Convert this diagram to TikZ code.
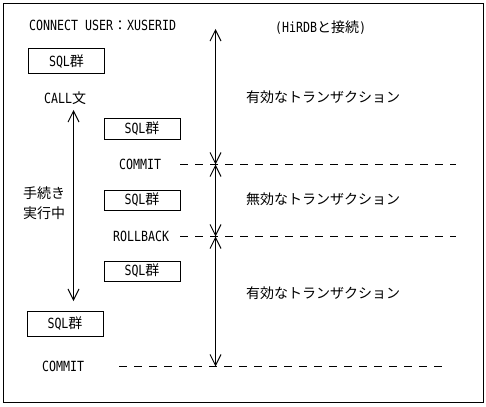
\documentclass[tikz,border=0pt]{standalone}
\usepackage{fontspec}
\setmainfont{DejaVu Sans Mono}[FakeStretch=0.83]
\newfontfamily\jp{Noto Sans CJK JP}
\usetikzlibrary{arrows.meta}
\tikzset{
  txt/.style={inner sep=0pt, anchor=west, font=\fontsize{14}{20}\selectfont},
  sqlbox/.style={draw, line width=1pt, inner sep=0pt, minimum width=76pt, font=\fontsize{14}{20}\selectfont},
  span/.style={line width=1pt, {Straight Barb[length=11pt,width=11pt]}-{Straight Barb[length=11pt,width=11pt]}},
  sepline/.style={line width=1pt, dash pattern=on 8pt off 7pt},
}
\begin{document}
\begin{tikzpicture}[x=1pt,y=-1pt]
\useasboundingbox (0,0) rectangle (486,406);
\draw[line width=1pt] (3.5,3.5) rectangle (483.5,402.5);

\node[txt] (conn) at (29,25) {CONNECT USER{\jp ：}XUSERID};
\node[txt] (hirdb) at (275,28) {(HiRDB{\jp と接続})};

\node[sqlbox, minimum height=25pt] (b1) at (66.5,61.5) {SQL{\jp 群}};
\node[txt] (call) at (44,98) {CALL{\jp 文}};
\node[sqlbox, minimum height=20pt] (b2) at (142,129) {SQL{\jp 群}};
\node[txt] (commit1) at (119,164.5) {COMMIT};
\node[txt, align=left] (proc) at (23,203) {{\jp 手続き}\\{\jp 実行中}};
\node[sqlbox, minimum height=20pt] (b3) at (142,200) {SQL{\jp 群}};
\node[txt] (rollback) at (113,236) {ROLLBACK};
\node[sqlbox, minimum height=20pt] (b4) at (142,271) {SQL{\jp 群}};
\node[sqlbox, minimum height=25pt] (b5) at (65,323.5) {SQL{\jp 群}};
\node[txt] (commit2) at (42,366.5) {COMMIT};

\node[txt] (valid1) at (246,97) {\jp 有効なトランザクション};
\node[txt] (invalid) at (246,199) {\jp 無効なトランザクション};
\node[txt] (valid2) at (246,293) {\jp 有効なトランザクション};

% right span arrows
\coordinate (rt) at (215.5,29);
\coordinate (rc1) at (215.5,164.5);
\coordinate (rr) at (215.5,236.5);
\coordinate (rc2) at (215.5,366.5);
\draw[span] (rt) -- (rc1);
\draw[span] (rc1) -- (rr);
\draw[span] (rr) -- (rc2);

% left span arrow
\coordinate (la) at (73.5,110);
\coordinate (lb) at (73.5,301);
\draw[span] (la) -- (lb);

% dashed separators
\coordinate (d1s) at (180,164.5);
\coordinate (d1e) at (456,164.5);
\coordinate (d2s) at (180,236.5);
\coordinate (d2e) at (456,236.5);
\coordinate (d3s) at (119,366.5);
\coordinate (d3e) at (447,366.5);
\draw[sepline] (d1s) -- (d1e);
\draw[sepline] (d2s) -- (d2e);
\draw[sepline] (d3s) -- (d3e);
\end{tikzpicture}
\end{document}
